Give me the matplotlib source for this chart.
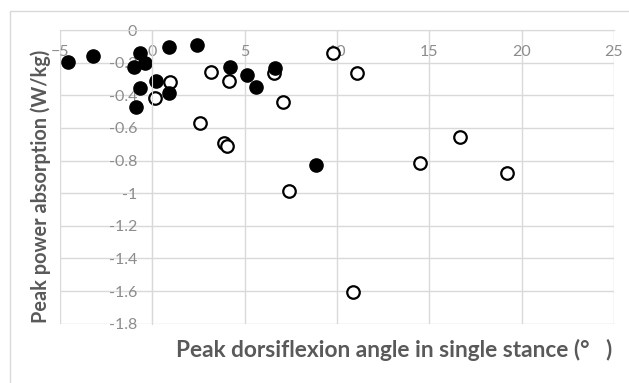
import matplotlib
matplotlib.use("Agg")
import matplotlib.pyplot as plt
from matplotlib.patches import Rectangle

plt.rcParams['font.family'] = ['Lato', 'DejaVu Sans']

# filled circles
filled_x = [-4.55, -3.21, -0.69, -1.01, -0.42, -0.69, -0.87, 0.22, 0.88, 0.92,
            2.42, 4.23, 5.13, 5.64, 6.63, 8.87]
filled_y = [-0.194, -0.16, -0.143, -0.225, -0.20, -0.354, -0.47, -0.311, -0.385, -0.106,
            -0.094, -0.225, -0.274, -0.348, -0.235, -0.828]

# open circles
open_x = [0.16, 0.98, 2.56, 3.18, 4.16, 3.90, 4.03, 6.61, 7.05, 7.39,
          9.79, 11.06, 16.66, 14.49, 19.22, 10.86]
open_y = [-0.419, -0.319, -0.569, -0.258, -0.313, -0.695, -0.712, -0.266, -0.44, -0.986,
          -0.139, -0.266, -0.654, -0.814, -0.875, -1.605]

xticks = [-5, 0, 5, 10, 15, 20, 25]
yticks = [0, -0.2, -0.4, -0.6, -0.8, -1, -1.2, -1.4, -1.6, -1.8]
ytick_labels = ['0', '-0.2', '-0.4', '-0.6', '-0.8', '-1', '-1.2', '-1.4', '-1.6', '-1.8']

grid_c = '#d9d9d9'
tick_c = '#8c8c8c'
title_c = '#595959'

fig = plt.figure(figsize=(6.29, 3.83), dpi=100)
fig.patches.append(Rectangle((10 / 629, -0.1), 1.2, (383 - 11) / 383 + 0.1,
                             transform=fig.transFigure, fill=False,
                             edgecolor=grid_c, linewidth=1))
ax = fig.add_axes([60 / 629, 59.3 / 383, 554 / 629, 293.7 / 383])

ax.set_xlim(-5, 25)
ax.set_ylim(-1.8, 0)
ax.set_xticks(xticks)
ax.set_yticks(yticks)
ax.set_yticklabels(ytick_labels)
ax.grid(True, color=grid_c, linewidth=1)
ax.set_axisbelow(True)

for s in ['left', 'right', 'bottom', 'top']:
    ax.spines[s].set_color(grid_c)
ax.spines['left'].set_position(('data', 0))
ax.spines['bottom'].set_visible(False)
ax.spines['right'].set_visible(False)

ax.tick_params(axis='x', top=True, labeltop=True, bottom=False, labelbottom=False,
               length=0, pad=-21, labelsize=11.5, labelcolor=tick_c)
ax.tick_params(axis='y', length=0, pad=11, labelsize=11.5, labelcolor=tick_c)

ax.plot(open_x, open_y, 'o', markersize=9, markerfacecolor='white',
        markeredgecolor='black', markeredgewidth=1.6, linestyle='none', clip_on=False)
ax.plot(filled_x, filled_y, 'o', markersize=9.5, color='black',
        linestyle='none', clip_on=False)

ax.set_xlabel('Peak dorsiflexion angle in single stance (°   )', fontsize=16.3,
              fontweight='bold', color=title_c, va='center')
ax.xaxis.set_label_coords(0.603, -0.0896)
ax.set_ylabel('Peak power absorption (W/kg)', fontsize=14.3, fontweight='bold',
              color=title_c, va='center')
ax.yaxis.set_label_coords(-0.034, 0.468)

fig.savefig('out.png', dpi=100)
